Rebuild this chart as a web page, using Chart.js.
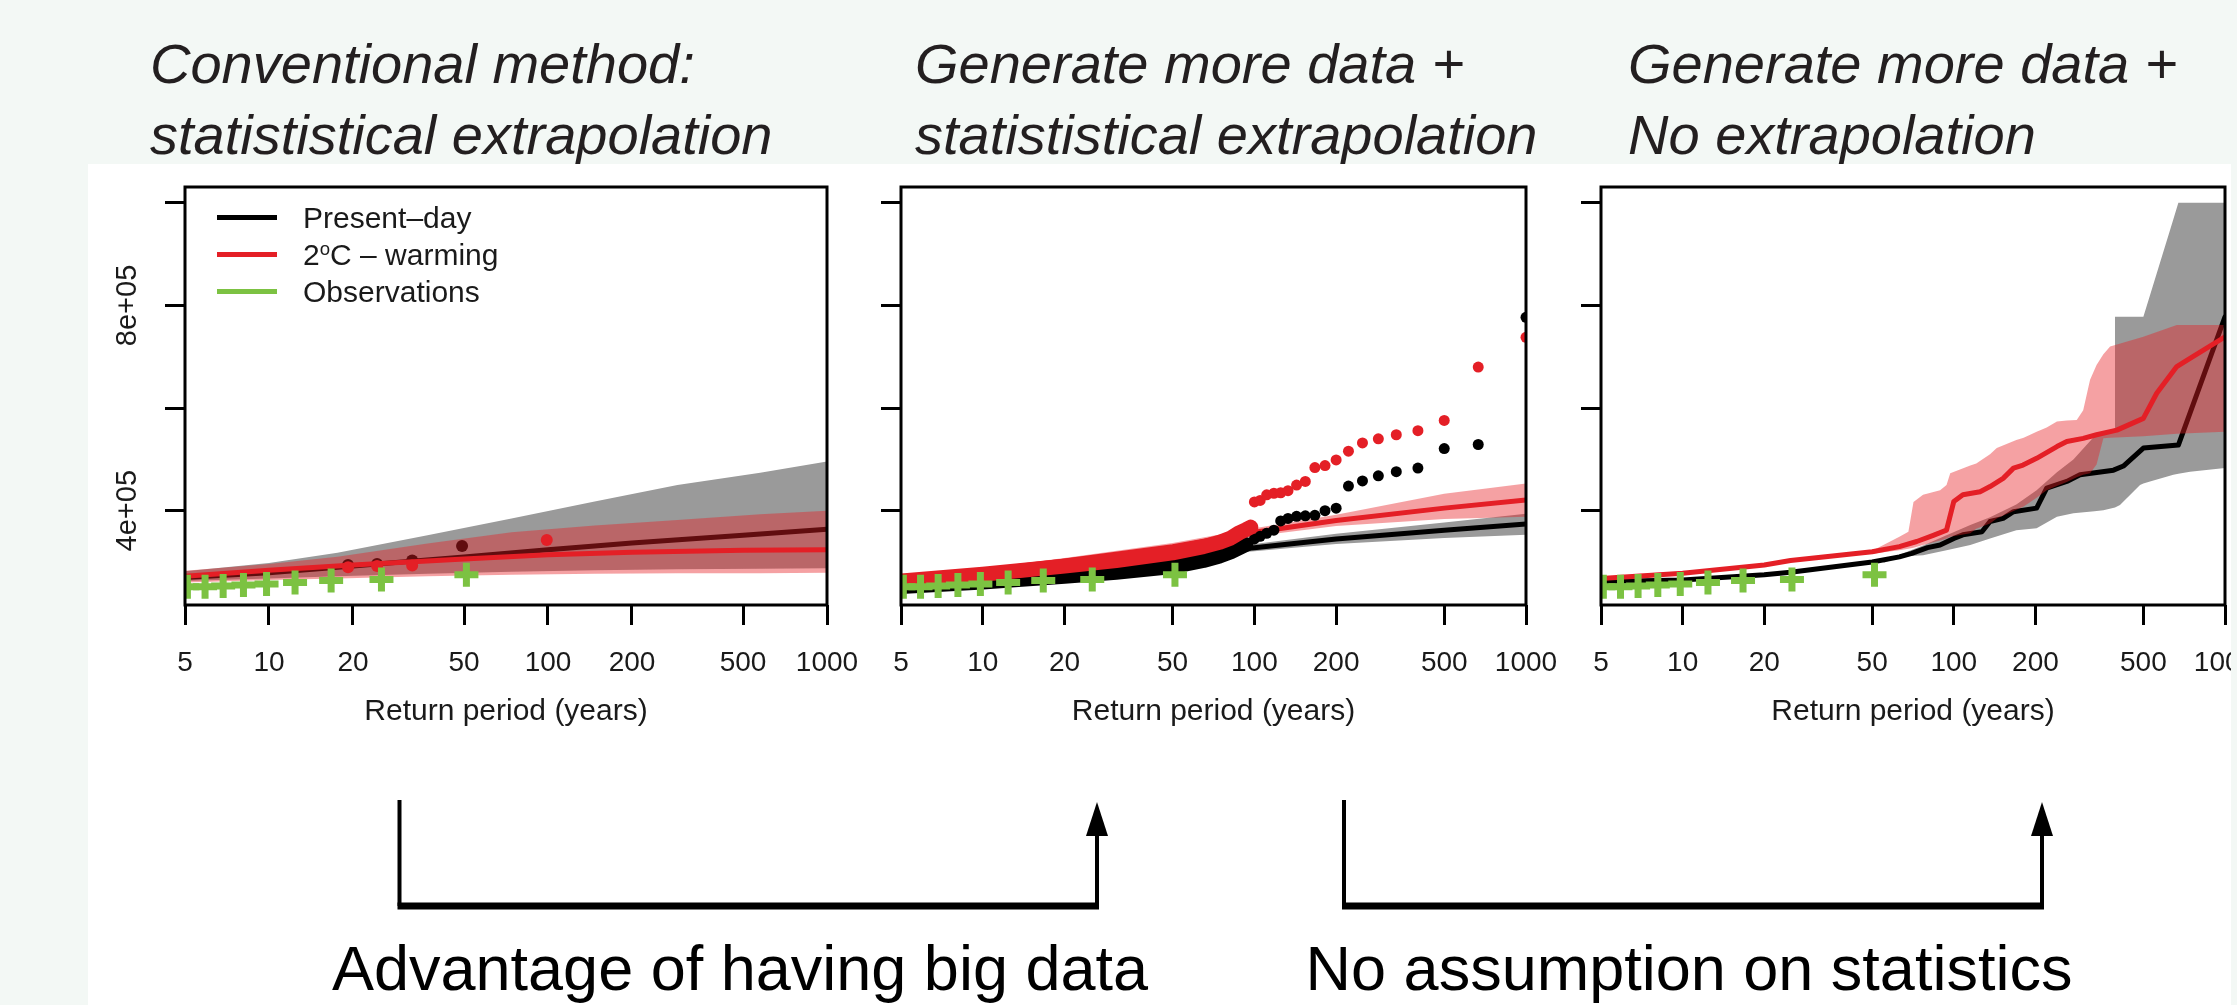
<!DOCTYPE html>
<html>
<head>
<meta charset="utf-8">
<script src="https://cdn.jsdelivr.net/npm/chart.js@4.4.1/dist/chart.umd.min.js"></script>
<style>
html,body{margin:0;padding:0;}
body{width:2237px;height:1005px;background:#f3f8f5;position:relative;overflow:hidden;font-family:'Liberation Sans',Arial,sans-serif;}
.title{position:absolute;top:28px;font-style:italic;font-size:56px;line-height:71px;color:#231f20;white-space:nowrap;}
#panel{position:absolute;left:88px;top:164px;width:2143px;height:841px;background:#fff;overflow:hidden;}
#panel canvas{position:absolute;top:0;}
.legend{position:absolute;left:129px;top:35px;font-size:30px;color:#1a1a1a;}
.row{height:37px;display:flex;align-items:center;white-space:nowrap;}
.sw{width:60px;height:5px;margin-right:26px;flex:none;}
.sup{position:relative;top:-0.5em;font-size:0.62em;}
.note{position:absolute;top:933px;font-size:63px;line-height:70px;color:#000;white-space:nowrap;text-align:center;}
#ann{position:absolute;left:0;top:0;}
</style>
</head>
<body>
<div class="title" style="left:150px">Conventional method:<br>statististical extrapolation</div>
<div class="title" style="left:915px">Generate more data +<br>statististical extrapolation</div>
<div class="title" style="left:1628px">Generate more data +<br>No extrapolation</div>

<div id="panel">
  <canvas id="c1" width="809" height="600" style="left:0px"></canvas>
  <canvas id="c2" width="736" height="600" style="left:772px"></canvas>
  <canvas id="c3" width="735" height="600" style="left:1472px"></canvas>
  <div class="legend">
    <div class="row"><span class="sw" style="background:#000"></span><span>Present–day</span></div>
    <div class="row"><span class="sw" style="background:#e41f26"></span><span>2<span class="sup">o</span>C – warming</span></div>
    <div class="row"><span class="sw" style="background:#7cc242"></span><span>Observations</span></div>
  </div>
</div>

<svg id="ann" width="2237" height="1005">
  <g stroke="#000" fill="none">
    <line x1="399.5" y1="800" x2="399.5" y2="906" stroke-width="4"/>
    <line x1="397.5" y1="906" x2="1099" y2="906" stroke-width="7"/>
    <line x1="1097" y1="906" x2="1097" y2="830" stroke-width="4"/>
    <line x1="1344" y1="800" x2="1344" y2="906" stroke-width="4"/>
    <line x1="1342" y1="906" x2="2044" y2="906" stroke-width="7"/>
    <line x1="2042" y1="906" x2="2042" y2="830" stroke-width="4"/>
  </g>
  <polygon points="1097,802 1086,836 1108,836" fill="#000"/>
  <polygon points="2042,802 2031,836 2053,836" fill="#000"/>
</svg>
<div class="note" style="left:240px;width:1000px">Advantage of having big data</div>
<div class="note" style="left:1189px;width:1000px">No assumption on statistics</div>

<script>
// ---------- axis ticks ----------
const xTicks = [5, 10, 20, 50, 100, 200, 500, 1000];
const yTicks = [400000, 600000, 800000, 1000000];
const yTickLabels = {400000: '4e+05', 800000: '8e+05'};

// ---------- observations (green crosses, all panels) ----------
const obsT = [5.1, 5.9, 6.85, 8.1, 9.8, 12.4, 16.7, 25.3, 51];
const obsV = [252000, 252000, 253000, 255000, 257000, 260000, 264000, 266000, 275000];

// ---------- panel 1: conventional extrapolation ----------
const p1LineT = [5, 10, 20, 50, 100, 200, 500, 1000];
const p1Present = [270000, 279000, 292000, 310000, 324000, 337000, 352000, 364000];
const p1Warming = [272000, 284000, 294000, 306000, 314000, 319000, 323000, 324000];
const p1BandT = [5, 10, 17.6, 37, 74, 147, 291, 576, 1000];
const p1PresentUp = [282000, 298000, 318000, 352000, 385000, 418000, 450000, 474000, 496000];
const p1PresentLo = [263000, 268000, 272000, 277000, 281000, 284000, 286000, 287000, 288000];
const p1WarmingUp = [283000, 296000, 310000, 336000, 358000, 371000, 382000, 393000, 400000];
const p1WarmingLo = [260000, 265000, 268000, 272000, 275000, 277000, 278000, 278000, 279000];
const p1PresentDotT = [19.2, 24.4, 32.6, 49.2];
const p1PresentDot = [294000, 296000, 303000, 331000];
const p1WarmingDotT = [19.2, 24.4, 32.6, 99];
const p1WarmingDot = [290000, 292000, 293000, 343000];

// ---------- panel 2: big data + extrapolation ----------
const p2LineT = [5, 10, 20, 50, 100, 200, 500, 1000];
const p2Present = [258000, 272000, 289000, 313000, 328000, 345000, 362000, 374000];
const p2PresentUp = [262000, 276000, 293000, 318000, 335000, 355000, 377000, 394000];
const p2PresentLo = [254000, 268000, 285000, 308000, 321000, 335000, 347000, 353000];
const p2Warming = [269000, 283000, 302000, 330000, 358000, 381000, 405000, 421000];
const p2WarmingUp = [273000, 288000, 308000, 337000, 366000, 392000, 433000, 453000];
const p2WarmingLo = [265000, 278000, 296000, 323000, 350000, 370000, 384000, 388000];
const p2PresentDenseT = [5, 10, 20, 31, 50, 65, 74, 82, 93];
const p2PresentDense = [252000, 261000, 272000, 280000, 291000, 303000, 311000, 320000, 334000];
const p2WarmingDenseT = [5, 10, 20, 31, 50, 65, 75, 82, 88, 93, 97];
const p2WarmingDense = [263000, 276000, 292000, 303000, 318000, 330000, 339000, 347000, 357000, 363000, 368000];
const p2TailT = [100, 105, 111, 118, 125, 133, 143, 154, 167, 182, 200, 222, 250, 286, 333, 400, 500, 667, 1000];
const p2PresentTail = [345000, 350000, 356000, 362000, 380000, 385000, 389000, 390000, 391000, 400000, 405000, 448000, 458000, 468000, 476000, 483000, 521000, 529000, 777000];
const p2WarmingTail = [417000, 420000, 431000, 434000, 435000, 439000, 450000, 457000, 484000, 488000, 499000, 516000, 532000, 540000, 548000, 556000, 576000, 680000, 738000];

// ---------- panel 3: big data, no extrapolation ----------
const p3PresentT = [5, 10, 20, 25, 50, 63, 70, 80, 89, 100, 108, 127, 136, 152, 166, 202, 220, 261, 292, 388, 422, 500, 673, 1000];
const p3Present = [262000, 265000, 275000, 280000, 300000, 310000, 317000, 328000, 333000, 346000, 353000, 359000, 379000, 385000, 398000, 405000, 444000, 457000, 470000, 479000, 487000, 522000, 528000, 778000];
const p3WarmingT = [5, 10, 20, 25, 50, 63, 73, 84, 94, 100, 108, 125, 136, 152, 166, 180, 202, 240, 261, 300, 336, 399, 500, 560, 664, 743, 1000];
const p3Warming = [268000, 278000, 294000, 303000, 320000, 330000, 340000, 352000, 362000, 418000, 431000, 437000, 447000, 463000, 483000, 489000, 502000, 525000, 535000, 541000, 548000, 557000, 580000, 629000, 681000, 697000, 739000];
const p3GrayT = [55, 63, 77, 94, 115, 136, 170, 202, 240, 276, 330, 356, 393, 393, 410, 486, 500, 529, 645, 673, 743, 1000];
const p3PresentUp = [305000, 314000, 332000, 352000, 372000, 387000, 412000, 440000, 475000, 500000, 545000, 552000, 560000, 778000, 778000, 778000, 778000, 820000, 968000, 1000000, 1000000, 1000000];
const p3PresentLo = [298000, 310000, 313000, 323000, 333000, 346000, 362000, 366000, 388000, 395000, 399000, 401000, 406000, 406000, 411000, 450000, 453000, 457000, 470000, 472000, 476000, 483000];
const p3PinkT = [50, 63, 68, 71, 77, 89, 94, 97, 115, 121, 136, 144, 170, 181, 202, 220, 240, 261, 284, 300, 318, 336, 356, 377, 500, 664, 1000];
const p3WarmingUp = [322000, 349000, 359000, 417000, 431000, 440000, 450000, 473000, 488000, 492000, 510000, 522000, 538000, 542000, 554000, 562000, 574000, 576000, 577000, 596000, 655000, 684000, 705000, 720000, 739000, 762000, 762000];
const p3WarmingLo = [316000, 323000, 326000, 328000, 333000, 342000, 346000, 349000, 356000, 365000, 375000, 385000, 402000, 408000, 425000, 440000, 448000, 456000, 465000, 470000, 473000, 490000, 541000, 542000, 545000, 550000, 554000];

// ---------- styles ----------
const BLACK = '#000000', RED = '#e41f26', GRAY = '#9a9a9a', PINK = 'rgba(230,30,35,0.42)', GREEN = '#7cc242';
Chart.defaults.font.family = "'Liberation Sans', Arial, sans-serif";

const pts = (T, V) => T.map((t, i) => ({x: t, y: V[i]}));
const band = (T, up, lo, color) => [
  {data: pts(T, up), borderColor: 'rgba(0,0,0,0)', borderWidth: 0, pointRadius: 0, fill: '+1', backgroundColor: color, clip: 0},
  {data: pts(T, lo), borderColor: 'rgba(0,0,0,0)', borderWidth: 0, pointRadius: 0, fill: false, clip: 0}
];
const lineDS = (T, V, color, w) => ({data: pts(T, V), borderColor: color, borderWidth: w, pointRadius: 0, fill: false, clip: 0,
  borderCapStyle: 'round', borderJoinStyle: 'round'});
const dotDS = (T, V, color, r) => ({data: pts(T, V), showLine: false, pointRadius: r, pointBackgroundColor: color,
  pointBorderColor: color, pointBorderWidth: 0, clip: 0});
const crossDS = () => ({data: pts(obsT, obsV), showLine: false, pointStyle: 'cross', pointRadius: 12,
  pointBorderColor: GREEN, pointBorderWidth: 7, clip: 0});

const boxPlugin = {
  id: 'box',
  afterDraw(c) {
    const {ctx, chartArea: a} = c;
    ctx.save();
    ctx.strokeStyle = '#000';
    ctx.lineWidth = 3;
    ctx.strokeRect(a.left, a.top, a.right - a.left, a.bottom - a.top);
    ctx.restore();
  }
};

function makeChart(id, list, yWidth, showYLabels) {
  const n = list.length;
  list.forEach((d, i) => { d.order = n - i; });
  return new Chart(document.getElementById(id), {
    type: 'line',
    data: {datasets: list},
    options: {
      responsive: false, animation: false, devicePixelRatio: 1, events: [],
      layout: {padding: {left: 0, right: 70, top: 23, bottom: 0}},
      plugins: {legend: {display: false}, tooltip: {enabled: false}},
      elements: {line: {tension: 0}},
      scales: {
        x: {
          type: 'logarithmic', min: 5, max: 1000, position: 'bottom',
          afterBuildTicks: s => { s.ticks = xTicks.map(v => ({value: v})); },
          afterFit: s => { s.height = 159; },
          ticks: {autoSkip: false, maxRotation: 0, minRotation: 0, padding: 21.7, color: '#1a1a1a',
            font: {size: 28}, callback: v => String(v)},
          grid: {display: true, drawOnChartArea: false, drawTicks: true, tickLength: 20, tickWidth: 3,
            tickColor: '#000', lineWidth: 3, color: '#000'},
          border: {display: false},
          title: {display: true, text: 'Return period (years)', font: {size: 30}, color: '#1a1a1a',
            padding: {top: 0, bottom: 34.5}}
        },
        y: {
          type: 'linear', min: 216200, max: 1030900, position: 'left',
          afterBuildTicks: s => { s.ticks = yTicks.map(v => ({value: v})); },
          afterFit: s => { s.width = yWidth; },
          ticks: {minRotation: 90, maxRotation: 90, crossAlign: 'center', padding: -4, color: '#1a1a1a',
            font: {size: 29}, callback: v => showYLabels ? (yTickLabels[v] || '') : ''},
          grid: {display: true, drawOnChartArea: false, drawTicks: true, tickLength: 20, tickWidth: 3,
            tickColor: '#000', lineWidth: 3, color: '#000'},
          border: {display: false}
        }
      }
    },
    plugins: [boxPlugin]
  });
}

makeChart('c1', [
  ...band(p1BandT, p1PresentUp, p1PresentLo, GRAY),
  lineDS(p1LineT, p1Present, BLACK, 5),
  dotDS(p1PresentDotT, p1PresentDot, BLACK, 6),
  ...band(p1BandT, p1WarmingUp, p1WarmingLo, PINK),
  lineDS(p1LineT, p1Warming, RED, 5),
  dotDS(p1WarmingDotT, p1WarmingDot, RED, 6),
  crossDS()
], 97, true);

makeChart('c2', [
  ...band(p2LineT, p2PresentUp, p2PresentLo, GRAY),
  lineDS(p2LineT, p2Present, BLACK, 5),
  ...band(p2LineT, p2WarmingUp, p2WarmingLo, PINK),
  lineDS(p2LineT, p2Warming, RED, 5),
  lineDS(p2PresentDenseT, p2PresentDense, BLACK, 15),
  dotDS(p2TailT, p2PresentTail, BLACK, 5.5),
  lineDS(p2WarmingDenseT, p2WarmingDense, RED, 15),
  dotDS(p2TailT, p2WarmingTail, RED, 5.5),
  crossDS()
], 41, false);

makeChart('c3', [
  ...band(p3GrayT, p3PresentUp, p3PresentLo, GRAY),
  lineDS(p3PresentT, p3Present, BLACK, 5),
  ...band(p3PinkT, p3WarmingUp, p3WarmingLo, PINK),
  lineDS(p3WarmingT, p3Warming, RED, 5),
  crossDS()
], 41, false);
</script>
</body>
</html>
